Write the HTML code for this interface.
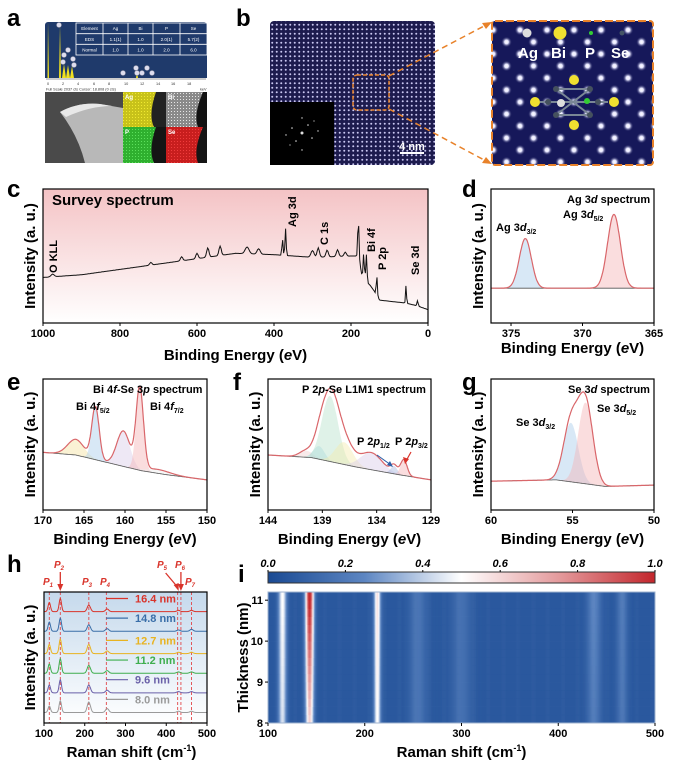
<!DOCTYPE html>
<html><head><meta charset="utf-8"><style>
html,body{margin:0;padding:0;background:#fff;}
svg{display:block;font-family:"Liberation Sans",sans-serif;}
.pl{font-weight:bold;font-size:24px;}
.tk{font-weight:bold;font-size:11px;}
.tt{font-weight:bold;font-size:15px;}
.an{font-weight:bold;font-size:11px;}
</style></head><body>
<svg id="fig" width="674" height="767" viewBox="0 0 674 767">
<defs>
<linearGradient id="pinkbg" x1="0" y1="0" x2="0" y2="1"><stop offset="0" stop-color="#f4c3c5"/><stop offset="1" stop-color="#ffffff"/></linearGradient>
<linearGradient id="bluebg" x1="0" y1="0" x2="0" y2="1"><stop offset="0" stop-color="#c5d9ec"/><stop offset="1" stop-color="#ffffff"/></linearGradient>
<linearGradient id="cbar" x1="0" y1="0" x2="1" y2="0"><stop offset="0" stop-color="#1a4a93"/><stop offset="0.25" stop-color="#5d86c2"/><stop offset="0.5" stop-color="#ffffff"/><stop offset="0.75" stop-color="#e49b9d"/><stop offset="1" stop-color="#c3262c"/></linearGradient>
<pattern id="latt" width="4.5" height="4.5" patternUnits="userSpaceOnUse"><rect width="4.5" height="4.5" fill="#1d1b4e"/><circle cx="2.25" cy="2.25" r="1" fill="#c9c6f0"/></pattern>
<radialGradient id="blob"><stop offset="0" stop-color="#ffffff"/><stop offset="0.35" stop-color="#e6e6ff"/><stop offset="1" stop-color="#16185a" stop-opacity="0"/></radialGradient>
<pattern id="latt2" width="27" height="24" patternUnits="userSpaceOnUse"><rect width="27" height="24" fill="#16185a"/><circle cx="7" cy="6" r="5.5" fill="url(#blob)"/><circle cx="20.5" cy="18" r="5.5" fill="url(#blob)"/></pattern>
<pattern id="noiseY" width="3" height="3" patternUnits="userSpaceOnUse"><rect width="3" height="3" fill="#c8c21a"/><rect width="1" height="1" fill="#f0ea30"/></pattern>
<pattern id="noiseG" width="3" height="3" patternUnits="userSpaceOnUse"><rect width="3" height="3" fill="#2fb02f"/><rect width="1" height="1" fill="#5ce05c"/></pattern>
<pattern id="noiseR" width="3" height="3" patternUnits="userSpaceOnUse"><rect width="3" height="3" fill="#c81e1e"/><rect width="1" height="1" fill="#f03c3c"/></pattern>
<pattern id="noiseW" width="3" height="3" patternUnits="userSpaceOnUse"><rect width="3" height="3" fill="#8a8a8a"/><rect width="1" height="1" fill="#e6e6e6"/></pattern>
</defs>

<!-- Panel a -->
<text class="pl" x="7" y="26">a</text>
<g>
<rect x="45" y="22" width="162" height="141" fill="#1f3a6b" rx="3"/>
<path d="M47.5 78 L48 22 L49 78Z M59 78 L60 25 L61 78Z M62 78 L64 64 L66 78Z M66 78 L68 65 L70 78Z M70 78 L72 66 L74 78Z M136 78 L137 72 L138 78Z" fill="#f0e020"/>
<g fill="#dde" stroke="#889" stroke-width="0.5"><circle cx="59" cy="25" r="2.5"/><circle cx="68" cy="50" r="2.5"/><circle cx="64" cy="55" r="2.5"/><circle cx="73" cy="59" r="2.5"/><circle cx="63" cy="62" r="2.5"/><circle cx="74" cy="65" r="2.5"/><circle cx="123" cy="73" r="2.5"/><circle cx="136" cy="68" r="2.5"/><circle cx="147" cy="68" r="2.5"/><circle cx="142" cy="73" r="2.5"/><circle cx="152" cy="73" r="2.5"/><circle cx="137" cy="73" r="2.5"/></g>
<g fill="none" stroke="#fff" stroke-width="0.8"><rect x="76" y="23" width="131" height="32"/><line x1="76" y1="33.7" x2="207" y2="33.7"/><line x1="76" y1="44.3" x2="207" y2="44.3"/><line x1="103" y1="23" x2="103" y2="55"/><line x1="128" y1="23" x2="128" y2="55"/><line x1="153" y1="23" x2="153" y2="55"/><line x1="180" y1="23" x2="180" y2="55"/></g>
<g fill="#fff" font-size="4.5" text-anchor="middle"><text x="89.5" y="30">Element</text><text x="115.5" y="30">Ag</text><text x="140.5" y="30">Bi</text><text x="166.5" y="30">P</text><text x="193.5" y="30">Se</text><text x="89.5" y="41">EDS</text><text x="115.5" y="41">1.1(1)</text><text x="140.5" y="41">1.0</text><text x="166.5" y="41">2.0(1)</text><text x="193.5" y="41">5.7(2)</text><text x="89.5" y="51.5">Normal</text><text x="115.5" y="51.5">1.0</text><text x="140.5" y="51.5">1.0</text><text x="166.5" y="51.5">2.0</text><text x="193.5" y="51.5">6.0</text></g>
<rect x="45" y="78" width="162" height="14" fill="#fff"/>
<line x1="46" y1="79" x2="206" y2="79" stroke="#333" stroke-width="0.6"/>
<g font-size="3.8" fill="#333"><text x="47" y="85">0</text><text x="62" y="85">2</text><text x="77" y="85">4</text><text x="93" y="85">6</text><text x="108" y="85">8</text><text x="124" y="85">10</text><text x="140" y="85">12</text><text x="156" y="85">14</text><text x="171" y="85">16</text><text x="187" y="85">18</text><text x="46" y="90.5">Full Scale 2037 cts Cursor: 18.808 (0 cts)</text><text x="200" y="90.5">keV</text></g>
</g>
<g>
<rect x="45" y="92" width="78" height="71" fill="#4a4a4a"/>
<path d="M60 112 Q78 102 100 104 L123 108 L123 163 L85 163 Q78 135 60 112Z" fill="#b8b8b8"/>
<path d="M60 112 Q78 102 100 104 L112 106 Q90 106 66 117Z" fill="#e8e8e8"/>
</g>
<g>
<rect x="123" y="92" width="43" height="35" fill="#222"/><path d="M123 92 L156 92 Q148 115 154 127 L123 127Z" fill="url(#noiseY)"/>
<rect x="166" y="92" width="41" height="35" fill="#111"/><path d="M166 92 L203 92 Q193 115 198 127 L166 127Z" fill="url(#noiseW)"/>
<rect x="123" y="127" width="43" height="36" fill="#151515"/><path d="M123 127 L156 127 Q148 150 154 163 L123 163Z" fill="url(#noiseG)"/>
<rect x="166" y="127" width="41" height="36" fill="#151515"/><path d="M166 127 L203 127 Q193 150 198 163 L166 163Z" fill="url(#noiseR)"/>
<g fill="#fff" font-size="6" font-weight="bold"><text x="125" y="99">Ag</text><text x="168" y="99">Bi</text><text x="125" y="134">P</text><text x="168" y="134">Se</text></g>
</g>

<!-- Panel b -->
<text class="pl" x="236" y="26">b</text>
<g>
<rect x="270" y="21" width="165" height="144" rx="4" fill="url(#latt)"/>
<rect x="270" y="102" width="64" height="63" fill="#000"/>
<g fill="#ddd"><circle cx="302" cy="133" r="1.5"/><circle cx="292" cy="128" r="0.8"/><circle cx="312" cy="138" r="0.8"/><circle cx="296" cy="141" r="0.8"/><circle cx="308" cy="125" r="0.8"/><circle cx="286" cy="135" r="0.7"/><circle cx="318" cy="131" r="0.7"/><circle cx="302" cy="118" r="0.7"/><circle cx="302" cy="150" r="0.7"/><circle cx="290" cy="145" r="0.6"/><circle cx="314" cy="121" r="0.6"/></g>
<rect x="353" y="75" width="36" height="35" rx="4" fill="none" stroke="#e8822a" stroke-width="1.5" stroke-dasharray="4,2"/>
<line x1="400" y1="153" x2="424" y2="153" stroke="#fff" stroke-width="2"/>
<text x="412" y="150" fill="#fff" font-size="11" font-weight="bold" text-anchor="middle">4 nm</text>
</g>
<g stroke="#e8822a" stroke-width="1.5" stroke-dasharray="6,4">
<line x1="389" y1="76" x2="486" y2="25"/><line x1="389" y1="109" x2="486" y2="161"/>
</g>
<polygon points="492,22 482,23 486,29" fill="#e8822a"/><polygon points="492,164 482,163 486,157" fill="#e8822a"/>
<g>
<rect x="492" y="21" width="161" height="144" rx="3" fill="url(#latt2)"/>
<rect x="492" y="21" width="161" height="144" rx="3" fill="none" stroke="#e8822a" stroke-width="2" stroke-dasharray="8,3"/>
<circle cx="527" cy="33" r="4.5" fill="#ddd"/><circle cx="560" cy="33" r="6.5" fill="#f0e030"/><circle cx="591" cy="33" r="2" fill="#3c3"/><circle cx="622" cy="33" r="2.5" fill="#456"/>
<g fill="#fff" font-size="15" font-weight="bold"><text x="518" y="58">Ag</text><text x="551" y="58">Bi</text><text x="585" y="58">P</text><text x="611" y="58">Se</text></g>
<g stroke="#7a8796" stroke-width="2"><line x1="556" y1="89" x2="590" y2="89"/><line x1="556" y1="89" x2="590" y2="115"/><line x1="590" y1="89" x2="556" y2="115"/><line x1="540" y1="102" x2="608" y2="102"/><line x1="556" y1="115" x2="590" y2="115"/></g>
<g fill="#45515e"><circle cx="556" cy="89" r="3"/><circle cx="590" cy="89" r="3"/><circle cx="556" cy="115" r="3"/><circle cx="590" cy="115" r="3"/><circle cx="548" cy="102" r="3"/><circle cx="598" cy="102" r="3"/></g>
<g fill="#f0e030"><circle cx="574" cy="80" r="5"/><circle cx="574" cy="125" r="5"/><circle cx="535" cy="102" r="5"/><circle cx="614" cy="102" r="5"/></g>
<circle cx="561" cy="103" r="4" fill="#ddd"/><circle cx="587" cy="101" r="3" fill="#3c3"/>
</g>

<g id="charts"></g>
</svg>
<script>
// ---------- DATA ----------
const cBgE = [1000,900,800,700,600,500,400,300,200,180,172,160,150,140,133,125,60,30,0];
const cBgI = [0.34,0.36,0.40,0.44,0.48,0.52,0.51,0.49,0.50,0.50,0.36,0.31,0.28,0.24,0.20,0.17,0.15,0.13,0.10];
const cPkE = [975,720,640,600,572,540,470,440,378,370,300,285,262,235,215,181,167,160,133,57,27];
const cPkH = [0.02,0.02,0.03,0.04,0.07,0.07,0.05,0.04,0.12,0.20,0.05,0.07,0.05,0.05,0.03,0.28,0.18,0.20,0.15,0.14,0.04];
const cPkW = [4,3,3,3,3,3,5,4,1.5,1.5,4,3,3,3,3,1.5,1.5,1.5,1.5,1.2,1.5];
const cTicks = [1000,800,600,400,200,0];
const dBgE = [376.4,365]; const dBgI = [0.26,0.26];
const dPkE = [374.0,367.8]; const dPkH = [0.37,0.55]; const dPkW = [0.42,0.45];
const dTicks = [375,370,365];
const eBgE = [170,166,162,158,155,150]; const eBgI = [0.44,0.42,0.36,0.30,0.27,0.23];
const ePkE = [166.0,163.6,160.2,158.2,156.0]; const ePkH = [0.12,0.40,0.27,0.62,0.03]; const ePkW = [1.0,0.45,0.8,0.45,1.5];
const eTicks = [170,165,160,155,150];
const fBgE = [144,140,136,132,129]; const fBgI = [0.42,0.40,0.33,0.27,0.23];
const fPkE = [140.5,139.3,138.3,137.0,134.5,132.4,131.5]; const fPkH = [0.05,0.10,0.50,0.17,0.13,0.06,0.12]; const fPkW = [0.6,0.5,0.75,0.8,1.0,0.3,0.3];
const fTicks = [144,139,134,129];
const gBgE = [60,56,53,50]; const gBgI = [0.22,0.23,0.18,0.19];
const gPkE = [55.1,54.2]; const gPkH = [0.45,0.62]; const gPkW = [0.45,0.45];
const gTicks = [60,55,50];
const hLabels = ["16.4 nm","14.8 nm","12.7 nm","11.2 nm","9.6 nm","8.0 nm"];
const hColors = ["#d9342b","#3a6ea8","#e8b321","#3fae4e","#6a60a8","#9a9a9a"];
const hOffset = [0.85,0.70,0.53,0.38,0.23,0.08];
const hPkPos = [113,140,210,255,430,462];
const hPkAmp = [[0.07,0.1,0.05,0.02,0.01,0.01],[0.07,0.1,0.05,0.02,0.01,0.015],[0.07,0.11,0.07,0.02,0.01,0.01],[0.07,0.11,0.06,0.02,0.01,0.01],[0.06,0.1,0.06,0.02,0.01,0.01],[0.05,0.09,0.08,0.03,0.01,0.01]];
const hDashPos = [113,140,210,253,428,436,462];
const hPLabels = ["P1","P2","P3","P4","P5","P6","P7"];
const hTicks = [100,200,300,400,500];
const iPkPos = [115,143,213,255,300,437,466];
const iTopVal = [0.45,1.0,0.52,0.12,0.10,0.18,0.14];
const iBotVal = [0.38,0.55,0.45,0.12,0.10,0.14,0.12];
const iPkW = [3,3,2.5,6,7,5,4];
const iXTicks = [100,200,300,400,500];
const iYTicks = [8,9,10,11];
const iCbTicks = [0.0,0.2,0.4,0.6,0.8,1.0];

// ---------- helpers ----------
const NS = "http://www.w3.org/2000/svg";
const root = document.getElementById('charts');
function mk(tag, attrs, parent){ const e=document.createElementNS(NS,tag); for(const k in attrs) e.setAttribute(k,attrs[k]); (parent||root).appendChild(e); return e; }
function nm(e, name, inter){
  
  
  return e;
}
function lin(v,v0,v1,p0,p1){ return p0+(v-v0)/(v1-v0)*(p1-p0); }
function interp(x, xs, ys){
  for(let i=0;i<xs.length-1;i++){ const a=xs[i],b=xs[i+1]; if((x-a)*(x-b)<=0){ return ys[i]+(x-a)/(b-a)*(ys[i+1]-ys[i]); } }
  return ys[ys.length-1];
}
function gauss(x,c,h,w){ return h*Math.exp(-(x-c)*(x-c)/(2*w*w)); }
function txt(x,y,s,cls,extra,parent){ const t=mk('text',Object.assign({x:x,y:y,class:cls},extra||{}),parent); t.textContent=s; return t; }

function xpsPanel(o){
  const g = mk('g',{});
  nm(g, o.name, false);
  const X=v=>lin(v,o.v0,o.v1,o.x0,o.x1), Y=i=>lin(i,0,1,o.y1,o.y0);
  if(o.bgfill){ const r=mk('rect',{x:o.x0,y:o.y0,width:o.x1-o.x0,height:o.y1-o.y0,fill:o.bgfill},g); nm(r,o.name+'-background',false); }
  const N=400, xs=[];
  for(let k=0;k<=N;k++) xs.push(o.v0+(o.v1-o.v0)*k/N);
  const bg = xs.map(v=>interp(v,o.bgE,o.bgI));
  if(o.compColors){
    o.pkE.forEach((c,j)=>{
      let d='', back='';
      xs.forEach((v,k)=>{ const yv=Math.max(o.y0,Y(bg[k]+gauss(v,c,o.pkH[j],o.pkW[j]))); d+=(k?'L':'M')+X(v).toFixed(1)+' '+yv.toFixed(1); });
      for(let k=N;k>=0;k--) back+='L'+X(xs[k]).toFixed(1)+' '+Y(bg[k]).toFixed(1);
      const p=mk('path',{d:d+back+'Z',fill:o.compColors[j],'fill-opacity':0.45,stroke:'none'},g);
      nm(p,o.name+'-component-'+j,false);
    });
  }
  let bd=''; xs.forEach((v,k)=>{ bd+=(k?'L':'M')+X(v).toFixed(1)+' '+Y(bg[k]).toFixed(1); });
  if(o.compColors){ const b=mk('path',{d:bd,fill:'none',stroke:'#555','stroke-width':0.8},g); nm(b,o.name+'-baseline',false); }
  let d='';
  xs.forEach((v,k)=>{ let s=bg[k]; o.pkE.forEach((c,j)=>{ s+=gauss(v,c,o.pkH[j],o.pkW[j]); }); d+=(k?'L':'M')+X(v).toFixed(1)+' '+Math.max(o.y0,Y(s)).toFixed(1); });
  const line=mk('path',{d:d,fill:'none',stroke:o.lineColor,'stroke-width':o.lw||1.2},g);
  nm(line,o.name+'-curve',false);
  const fr=mk('rect',{x:o.x0,y:o.y0,width:o.x1-o.x0,height:o.y1-o.y0,fill:'none',stroke:'#000','stroke-width':1.2},g);
  nm(fr,o.name+'-frame',false);
  o.ticks.forEach(t=>{
    const tx=X(t);
    mk('line',{x1:tx,y1:o.y1,x2:tx,y2:o.y1+3,stroke:'#000'},g);
    const tl=txt(tx,o.y1+14,String(t),'tk',{'text-anchor':'middle'},g);
    nm(tl,o.name+'-x-tick-label',false);
  });
  const xt=mk('text',{x:(o.x0+o.x1)/2,y:o.y1+(o.tOff||34),class:'tt','text-anchor':'middle'},g);
  xt.innerHTML='Binding Energy (<tspan font-style="italic">e</tspan>V)';
  nm(xt,o.name+'-x-axis-title',false);
  const yt=txt(0,0,'Intensity (a. u.)','tt',{'text-anchor':'middle',transform:`translate(${o.x0-8},${(o.y0+o.y1)/2}) rotate(-90)`},g);
  nm(yt,o.name+'-y-axis-title',false);
  return {g,X,Y};
}

// ---------- panel c ----------
txt(7,197,'c','pl');
const pc = xpsPanel({name:'survey-spectrum',x0:43,x1:428,y0:189,y1:323,v0:1000,v1:0,bgE:cBgE,bgI:cBgI,pkE:cPkE,pkH:cPkH,pkW:cPkW,ticks:cTicks,lineColor:'#111',lw:1,bgfill:'url(#pinkbg)',tOff:37});
txt(52,205,'Survey spectrum','tt',{'font-size':14},pc.g);
[['O KLL',57,273],['Ag 3d',296,227],['C 1s',328,245],['Bi 4f',375,252],['P 2p',386,270],['Se 3d',419,275]].forEach(a=>{
  const t=txt(0,0,a[0],'an',{transform:`translate(${a[1]},${a[2]}) rotate(-90)`},pc.g);
  nm(t,'peak-label',false);
});

// ---------- panel d ----------
txt(462,197,'d','pl');
const pd = xpsPanel({name:'ag3d-spectrum',x0:491,x1:654,y0:189,y1:323,v0:376.4,v1:365,bgE:dBgE,bgI:dBgI,pkE:dPkE,pkH:dPkH,pkW:dPkW,ticks:dTicks,lineColor:'#d9666a',compColors:['#a9cdec','#f3b3b5'],tOff:30});
pd.g.insertAdjacentHTML('beforeend','<text class="an" x="567" y="203">Ag 3<tspan font-style="italic">d</tspan> spectrum</text><text class="an" x="563" y="218">Ag 3<tspan font-style="italic">d</tspan><tspan font-size="7" dy="3">5/2</tspan></text><text class="an" x="496" y="231">Ag 3<tspan font-style="italic">d</tspan><tspan font-size="7" dy="3">3/2</tspan></text>');

// ---------- panel e ----------
txt(7,390,'e','pl');
const pe = xpsPanel({name:'bi4f-spectrum',x0:43,x1:207,y0:379,y1:510,v0:170,v1:150,bgE:eBgE,bgI:eBgI,pkE:ePkE,pkH:ePkH,pkW:ePkW,ticks:eTicks,lineColor:'#d9666a',compColors:['#f3e3a0','#a9cdec','#d9cde8','#f3b3b5','#eeeeee']});
pe.g.insertAdjacentHTML('beforeend','<text class="an" x="93" y="393">Bi 4<tspan font-style="italic">f</tspan>-Se 3<tspan font-style="italic">p</tspan> spectrum</text><text class="an" x="76" y="410">Bi 4<tspan font-style="italic">f</tspan><tspan font-size="7" dy="3">5/2</tspan></text><text class="an" x="150" y="410">Bi 4<tspan font-style="italic">f</tspan><tspan font-size="7" dy="3">7/2</tspan></text>');

// ---------- panel f ----------
txt(233,390,'f','pl');
const pf = xpsPanel({name:'p2p-spectrum',x0:268,x1:431,y0:379,y1:510,v0:144,v1:129,bgE:fBgE,bgI:fBgI,pkE:fPkE,pkH:fPkH,pkW:fPkW,ticks:fTicks,lineColor:'#d9666a',compColors:['#f0d0d0','#a9d8e8','#b8e3cc','#f3ecb0','#d9cde8','#a8b8e0','#f3b3b5']});
pf.g.insertAdjacentHTML('beforeend','<text class="an" x="302" y="393">P 2<tspan font-style="italic">p</tspan>-Se L1M1 spectrum</text><text class="an" x="357" y="445">P 2<tspan font-style="italic">p</tspan><tspan font-size="7" dy="3">1/2</tspan></text><text class="an" x="395" y="445">P 2<tspan font-style="italic">p</tspan><tspan font-size="7" dy="3">3/2</tspan></text><line x1="377" y1="455" x2="391" y2="465" stroke="#2a5fa8" stroke-width="1"/><polygon points="393,467 387,465 390,461" fill="#2a5fa8"/><line x1="411" y1="452" x2="406" y2="461" stroke="#d9342b" stroke-width="1.2"/><polygon points="405,464 403,457 409,459" fill="#d9342b"/>');

// ---------- panel g ----------
txt(462,390,'g','pl');
const pg = xpsPanel({name:'se3d-spectrum',x0:491,x1:654,y0:379,y1:510,v0:60,v1:50,bgE:gBgE,bgI:gBgI,pkE:gPkE,pkH:gPkH,pkW:gPkW,ticks:gTicks,lineColor:'#d9666a',compColors:['#a9cdec','#f3b3b5']});
pg.g.insertAdjacentHTML('beforeend','<text class="an" x="568" y="393">Se 3<tspan font-style="italic">d</tspan> spectrum</text><text class="an" x="516" y="426">Se 3<tspan font-style="italic">d</tspan><tspan font-size="7" dy="3">3/2</tspan></text><text class="an" x="597" y="412">Se 3<tspan font-style="italic">d</tspan><tspan font-size="7" dy="3">5/2</tspan></text>');

// ---------- panel h ----------
txt(7,572,'h','pl');
(function(){
  const x0=44,x1=207,y0=592,y1=723;
  const g=mk('g',{}); nm(g,'raman-stack-chart',false);
  const X=v=>lin(v,100,500,x0,x1), Y=i=>lin(i,0,1,y1,y0);
  const bgr=mk('rect',{x:x0,y:y0,width:x1-x0,height:y1-y0,fill:'url(#bluebg)'},g); nm(bgr,'raman-background',false);
  hDashPos.forEach(p=>{ const l=mk('line',{x1:X(p),y1:y0,x2:X(p),y2:y1,stroke:'#e2474a','stroke-width':0.9,'stroke-dasharray':'3,2'},g); nm(l,'peak-guide-line',false); });
  hLabels.forEach((lab,i)=>{
    let d='';
    for(let v=100;v<=500;v+=1){ let s=hOffset[i]; hPkPos.forEach((c,j)=>{ s+=gauss(v,c,hPkAmp[i][j],c<200?3:4); }); d+=(v>100?'L':'M')+X(v).toFixed(1)+' '+Y(s).toFixed(1); }
    const p=mk('path',{d:d,fill:'none',stroke:hColors[i],'stroke-width':1},g); nm(p,'raman-trace-'+lab.replace(/[ .]/g,''),false);
    const ly=Y(hOffset[i]+0.07);
    const ll=mk('line',{x1:106,y1:ly-4,x2:128,y2:ly-4,stroke:hColors[i],'stroke-width':1.2},g); nm(ll,'legend-line',false);
    const lt=txt(135,ly,lab,'an',{fill:hColors[i],'font-size':11.5},g); nm(lt,'legend-entry',false);
  });
  const pxs=[48,59,87,105,162,180,190], pys=[585,568,585,585,568,568,585];
  hPLabels.forEach((lab,i)=>{
    const t=mk('text',{x:pxs[i],y:pys[i],fill:'#d9342b','font-size':10,'font-weight':'bold','font-style':'italic','text-anchor':'middle'},g);
    t.innerHTML=lab[0]+'<tspan font-size="6" dy="2">'+lab[1]+'</tspan>';
    nm(t,'peak-label-'+lab,false);
  });
  g.insertAdjacentHTML('beforeend','<line x1="'+X(140)+'" y1="572" x2="'+X(140)+'" y2="586" stroke="#d9342b" stroke-width="1.3"/><polygon points="'+(X(140)-3)+',584 '+(X(140)+3)+',584 '+X(140)+',591" fill="#d9342b"/><line x1="'+X(436)+'" y1="572" x2="'+X(436)+'" y2="586" stroke="#d9342b" stroke-width="1.3"/><polygon points="'+(X(436)-3)+',584 '+(X(436)+3)+',584 '+X(436)+',591" fill="#d9342b"/><line x1="'+(X(428)-12)+'" y1="573" x2="'+(X(428)-1)+'" y2="586" stroke="#d9342b" stroke-width="1.3"/><polygon points="'+(X(428)-4)+',585 '+(X(428)+1)+',583 '+(X(428)+1)+',591" fill="#d9342b"/>');
  const fr=mk('rect',{x:x0,y:y0,width:x1-x0,height:y1-y0,fill:'none',stroke:'#000','stroke-width':1.2},g); nm(fr,'raman-frame',false);
  hTicks.forEach(t=>{ mk('line',{x1:X(t),y1:y1,x2:X(t),y2:y1+3,stroke:'#000'},g); const tl=txt(X(t),y1+14,String(t),'tk',{'text-anchor':'middle'},g); nm(tl,'raman-x-tick-label',false); });
  const xt=mk('text',{x:(x0+x1)/2+6,y:y1+34,class:'tt','text-anchor':'middle'},g);
  xt.innerHTML='Raman shift (cm<tspan font-size="9" dy="-6">-1</tspan><tspan dy="6">)</tspan>';
  nm(xt,'raman-x-axis-title',false);
  const yt=txt(0,0,'Intensity (a. u.)','tt',{'text-anchor':'middle',transform:`translate(${x0-9},${(y0+y1)/2}) rotate(-90)`},g); nm(yt,'raman-y-axis-title',false);
})();

// ---------- panel i ----------
txt(238,582,'i','pl');
(function(){
  const x0=268,x1=655,y0=592,y1=723,cy0=572,cy1=583;
  const g=mk('g',{}); nm(g,'raman-heatmap',false);
  const X=v=>lin(v,100,500,x0,x1), Y=t=>lin(t,8,11.2,y1,y0);
  function cmap(t){ t=Math.max(0,Math.min(1,t));
    const st=[[0,[26,74,147]],[0.25,[93,134,194]],[0.5,[255,255,255]],[0.75,[228,155,157]],[1,[195,38,44]]];
    for(let i=0;i<st.length-1;i++){ if(t<=st[i+1][0]){ const f=(t-st[i][0])/(st[i+1][0]-st[i][0]); const a=st[i][1],b=st[i+1][1]; return 'rgb('+a.map((c,k)=>Math.round(c+(b[k]-c)*f)).join(',')+')'; } }
  }
  const rows=16, dw=(x1-x0)/400;
  for(let r=0;r<rows;r++){
    const th0=8+3.2*r/rows, th1=8+3.2*(r+1)/rows; const f=((th0+th1)/2-8)/3.2;
    for(let v=100;v<500;v+=1){
      let s=0.06; iPkPos.forEach((c,j)=>{ const h=iBotVal[j]+(iTopVal[j]-iBotVal[j])*f; s+=gauss(v+0.5,c,h,iPkW[j]); });
      const rc=mk('rect',{x:X(v).toFixed(2),y:Y(th1).toFixed(2),width:(dw+0.3).toFixed(2),height:(Y(th0)-Y(th1)+0.3).toFixed(2),fill:cmap(s)},g);
      
      
    }
  }
  const fr=mk('rect',{x:x0,y:y0,width:x1-x0,height:y1-y0,fill:'none',stroke:'#9fb3cf','stroke-width':1},g); nm(fr,'heatmap-frame',false);
  const cb=mk('rect',{x:x0,y:cy0,width:x1-x0,height:cy1-cy0,fill:'url(#cbar)',stroke:'#333','stroke-width':1},g); nm(cb,'colorbar',false);
  iCbTicks.forEach(t=>{ const cx=lin(t,0,1,x0,x1); mk('line',{x1:cx,y1:cy0,x2:cx,y2:cy0-2,stroke:'#000'},g); const tl=txt(cx,cy0-5,t.toFixed(1),'tk',{'text-anchor':'middle','font-style':'italic'},g); nm(tl,'colorbar-tick-label',false); });
  iXTicks.forEach(t=>{ mk('line',{x1:X(t),y1:y1,x2:X(t),y2:y1+3,stroke:'#000'},g); const tl=txt(X(t),y1+14,String(t),'tk',{'text-anchor':'middle'},g); nm(tl,'heatmap-x-tick-label',false); });
  iYTicks.forEach(t=>{ mk('line',{x1:x0,y1:Y(t),x2:x0-3,y2:Y(t),stroke:'#000'},g); const tl=txt(x0-5,Y(t)+4,String(t),'tk',{'text-anchor':'end'},g); nm(tl,'heatmap-y-tick-label',false); });
  const xt=mk('text',{x:(x0+x1)/2,y:y1+34,class:'tt','text-anchor':'middle'},g);
  xt.innerHTML='Raman shift (cm<tspan font-size="9" dy="-6">-1</tspan><tspan dy="6">)</tspan>';
  nm(xt,'heatmap-x-axis-title',false);
  const yt=txt(0,0,'Thickness (nm)','tt',{'text-anchor':'middle',transform:`translate(${x0-20},${(y0+y1)/2}) rotate(-90)`},g); nm(yt,'heatmap-y-axis-title',false);
})();
</script>
</body></html>
